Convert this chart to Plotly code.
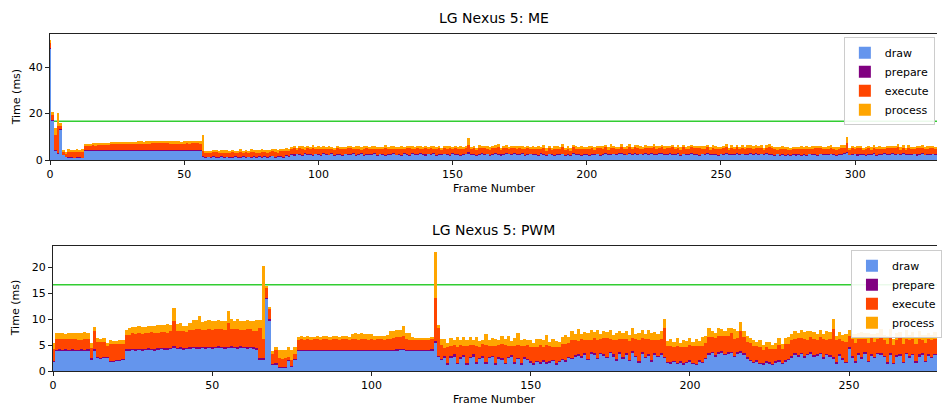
import plotly.graph_objects as go

# ---------------- LG Nexus 5: ME (frames 0..330) ----------------
draw_me = [
    48.0, 17.2, 4.3, 3.0, 13.0, 2.2, 1.4, 1.2, 1.0, 0.9,
    1.1, 1.0, 0.9, 4.0, 4.0, 4.1, 4.0, 4.0, 4.1, 4.0,
    4.0, 4.1, 4.0, 4.1, 4.1, 4.0, 4.1, 4.1, 4.1, 4.0,
    4.1, 4.1, 4.1, 4.1, 4.1, 4.0, 4.1, 4.1, 4.2, 4.1,
    4.1, 4.2, 4.2, 4.2, 4.2, 4.1, 4.2, 4.2, 4.2, 4.1,
    4.2, 4.1, 4.2, 4.2, 4.2, 4.2, 4.1, 1.5, 1.2, 1.4,
    1.1, 1.5, 1.3, 1.2, 1.6, 1.1, 1.4, 1.3, 1.2, 1.5,
    1.1, 1.3, 1.6, 1.2, 1.4, 1.1, 1.7, 1.3, 1.5, 1.2,
    1.6, 1.3, 1.4, 1.8, 1.2, 1.5, 1.7, 1.3, 1.9, 1.6,
    2.3, 2.1, 2.6, 2.4, 2.0, 2.8, 2.2, 2.5, 2.1, 2.7,
    2.4, 2.0, 2.6, 2.3, 2.2, 2.9, 2.1, 2.5, 2.4, 2.0,
    2.7, 2.3, 2.2, 2.6, 2.0, 2.4, 2.8, 2.1, 2.5, 2.3,
    2.2, 2.6, 2.0, 2.7, 2.4, 2.1, 2.5, 2.3, 2.8, 2.2,
    2.4, 2.0, 2.6, 2.5, 2.1, 2.9, 2.3, 2.2, 2.7, 2.4,
    2.1, 2.6, 2.3, 2.8, 2.0, 2.5, 2.2, 2.6, 2.4, 2.1,
    2.7, 2.3, 2.5, 2.0, 2.4, 2.6, 3.0, 2.2, 2.5, 2.1,
    2.4, 2.8, 2.2, 2.6, 2.0, 2.3, 2.7, 2.5, 2.1, 2.4,
    2.9, 2.6, 2.3, 2.7, 2.2, 2.5, 2.8, 2.1, 2.4, 2.6,
    2.2, 2.5, 2.0, 2.7, 2.3, 2.1, 2.6, 2.4, 2.0, 2.5,
    2.2, 2.6, 2.1, 2.4, 2.0, 2.7, 2.3, 2.5, 2.1, 2.4,
    2.2, 2.0, 2.5, 2.3, 2.6, 2.1, 2.4, 2.8, 2.2, 2.5,
    2.7, 2.3, 2.6, 2.9, 2.4, 2.2, 2.7, 2.5, 2.8, 2.3,
    2.6, 2.4, 2.9, 2.2, 2.7, 2.5, 2.3, 2.8, 2.6, 2.4,
    2.2, 2.7, 2.5, 2.3, 2.8, 2.1, 2.6, 2.4, 2.2, 2.7,
    2.5, 2.3, 2.0, 2.6, 2.4, 2.8, 2.2, 2.5, 2.3, 2.1,
    2.6, 2.4, 2.7, 2.2, 2.5, 2.3, 2.8, 2.4, 2.6, 2.2,
    2.5, 2.7, 2.3, 2.9, 2.4, 2.6, 2.2, 2.8, 2.5, 2.3,
    2.1, 2.6, 2.0, 2.4, 1.8, 2.2, 1.9, 2.5, 2.1, 2.3,
    1.9, 2.4, 2.0, 2.6, 2.2, 2.5, 2.1, 2.7, 2.3, 2.5,
    2.2, 2.6, 2.4, 2.0, 2.5, 2.3, 2.7, 3.1, 2.2, 2.4,
    2.6, 2.1, 2.5, 2.3, 2.0, 2.4, 2.2, 2.6, 2.1, 2.5,
    2.3, 2.7, 2.2, 2.5, 2.8, 2.4, 2.6, 2.3, 2.7, 2.2,
    2.5, 2.3, 2.6, 2.1, 2.4, 2.7, 2.2, 2.5, 2.3, 2.6, 2.4,
]
prepare_me = [
    0.3, 0.2, 0.2, 0.2, 0.3, 0.1, 0.1, 0.1, 0.1, 0.1,
    0.1, 0.1, 0.1, 0.2, 0.2, 0.2, 0.2, 0.2, 0.2, 0.2,
    0.2, 0.2, 0.2, 0.2, 0.2, 0.2, 0.2, 0.2, 0.2, 0.2,
    0.2, 0.2, 0.2, 0.2, 0.2, 0.2, 0.2, 0.2, 0.2, 0.2,
    0.3, 0.3, 0.3, 0.3, 0.3, 0.3, 0.2, 0.2, 0.3, 0.2,
    0.2, 0.3, 0.2, 0.3, 0.3, 0.2, 0.2, 0.2, 0.2, 0.1,
    0.2, 0.1, 0.2, 0.2, 0.1, 0.2, 0.1, 0.2, 0.2, 0.1,
    0.2, 0.2, 0.1, 0.2, 0.1, 0.2, 0.2, 0.1, 0.2, 0.2,
    0.1, 0.2, 0.2, 0.1, 0.2, 0.2, 0.1, 0.2, 0.2, 0.2,
    0.2, 0.3, 0.2, 0.2, 0.1, 0.2, 0.3, 0.2, 0.2, 0.1,
    0.2, 0.2, 0.3, 0.2, 0.1, 0.2, 0.2, 0.3, 0.2, 0.2,
    0.1, 0.2, 0.2, 0.3, 0.2, 0.2, 0.1, 0.2, 0.3, 0.2,
    0.2, 0.3, 0.2, 0.1, 0.2, 0.2, 0.3, 0.2, 0.2, 0.1,
    0.2, 0.2, 0.3, 0.2, 0.2, 0.1, 0.2, 0.3, 0.2, 0.2,
    0.3, 0.2, 0.2, 0.1, 0.2, 0.3, 0.2, 0.2, 0.1, 0.2,
    0.2, 0.3, 0.2, 0.2, 0.1, 0.2, 0.3, 0.2, 0.2, 0.2,
    0.1, 0.2, 0.3, 0.2, 0.2, 0.1, 0.2, 0.2, 0.3, 0.2,
    0.2, 0.1, 0.2, 0.3, 0.2, 0.2, 0.1, 0.2, 0.3, 0.2,
    0.2, 0.2, 0.1, 0.2, 0.3, 0.2, 0.2, 0.1, 0.2, 0.2,
    0.3, 0.2, 0.2, 0.1, 0.2, 0.3, 0.2, 0.2, 0.1, 0.2,
    0.2, 0.3, 0.2, 0.2, 0.1, 0.2, 0.2, 0.3, 0.2, 0.2,
    0.1, 0.2, 0.3, 0.2, 0.2, 0.1, 0.2, 0.2, 0.3, 0.2,
    0.2, 0.1, 0.2, 0.3, 0.2, 0.2, 0.1, 0.2, 0.3, 0.2,
    0.2, 0.2, 0.1, 0.2, 0.3, 0.2, 0.2, 0.1, 0.2, 0.2,
    0.3, 0.2, 0.2, 0.1, 0.2, 0.3, 0.2, 0.2, 0.1, 0.2,
    0.2, 0.3, 0.2, 0.2, 0.1, 0.2, 0.2, 0.3, 0.2, 0.2,
    0.1, 0.2, 0.3, 0.2, 0.2, 0.1, 0.2, 0.2, 0.3, 0.2,
    0.2, 0.1, 0.2, 0.3, 0.2, 0.2, 0.1, 0.2, 0.3, 0.2,
    0.2, 0.2, 0.1, 0.2, 0.3, 0.2, 0.2, 0.1, 0.2, 0.2,
    0.3, 0.2, 0.2, 0.1, 0.2, 0.3, 0.2, 0.2, 0.1, 0.2,
    0.2, 0.3, 0.2, 0.2, 0.1, 0.2, 0.2, 0.3, 0.2, 0.2,
    0.1, 0.2, 0.3, 0.2, 0.2, 0.1, 0.2, 0.2, 0.3, 0.2,
    0.2, 0.1, 0.2, 0.3, 0.2, 0.2, 0.1, 0.2, 0.3, 0.2, 0.2,
]
execute_me = [
    2.0, 2.0, 6.4, 11.3, 1.5, 1.4, 1.2, 2.2, 2.5, 2.6,
    2.4, 2.5, 2.6, 1.9, 1.9, 2.0, 2.1, 2.0, 2.1, 2.2,
    2.3, 2.2, 2.4, 2.5, 2.4, 2.6, 2.5, 2.6, 2.5, 2.7,
    2.6, 2.7, 2.6, 2.7, 2.8, 2.7, 2.8, 2.7, 2.8, 2.9,
    2.8, 2.9, 2.8, 2.9, 2.8, 2.7, 2.6, 2.7, 2.6, 2.7,
    2.6, 2.8, 2.7, 2.8, 2.7, 2.8, 2.7, 2.0, 1.8, 1.6,
    2.0, 1.7, 1.9, 1.8, 1.5, 2.1, 1.7, 1.9, 2.0, 1.6,
    1.8, 1.9, 1.5, 2.0, 1.7, 2.2, 1.6, 1.8, 1.7, 2.1,
    1.9, 1.6, 2.0, 1.8, 2.2, 1.7, 1.9, 2.3, 1.8, 2.0,
    2.2, 2.6, 1.9, 2.4, 2.8, 1.7, 2.5, 2.1, 2.9, 1.8,
    2.3, 2.7, 2.0, 2.5, 2.6, 1.8, 2.4, 2.2, 2.0, 2.8,
    1.9, 2.5, 2.6, 2.1, 2.7, 2.3, 1.8, 2.6, 2.2, 2.4,
    2.5, 2.0, 2.7, 1.9, 2.3, 2.8, 2.1, 2.4, 1.8, 2.6,
    2.2, 2.7, 1.9, 2.3, 2.8, 1.8, 2.4, 2.6, 2.0, 2.3,
    2.6, 2.0, 2.5, 1.9, 2.7, 2.3, 2.1, 2.6, 2.2, 2.9,
    2.0, 2.4, 2.2, 2.7, 2.3, 2.5, 3.0, 2.4, 2.4, 2.3,
    2.6, 2.2, 2.8, 2.0, 2.5, 2.7, 2.4, 2.9, 2.2, 2.5,
    2.3, 1.9, 2.7, 2.1, 2.4, 2.6, 1.8, 2.3, 2.5, 2.0,
    2.4, 1.9, 2.6, 2.2, 2.7, 1.8, 2.3, 2.1, 2.6, 2.2,
    2.5, 2.8, 2.0, 2.4, 1.9, 2.7, 2.3, 2.1, 2.6, 2.4,
    2.2, 2.6, 2.3, 2.0, 2.5, 2.8, 2.2, 2.4, 2.1, 2.7,
    2.4, 2.2, 1.9, 2.7, 2.3, 2.5, 2.8, 2.1, 2.4, 2.6,
    2.0, 2.5, 2.3, 2.6, 2.1, 2.8, 2.4, 2.2, 2.7, 2.3,
    2.6, 2.1, 2.9, 2.4, 2.2, 2.0, 2.7, 2.3, 2.5, 2.8,
    2.3, 2.6, 2.8, 2.2, 2.5, 2.4, 2.0, 2.7, 2.3, 2.5,
    2.1, 2.4, 2.6, 2.0, 2.8, 2.3, 2.5, 2.2, 2.6, 2.4,
    2.7, 2.2, 2.5, 2.1, 2.4, 2.6, 2.0, 2.3, 2.8, 2.5,
    2.3, 2.0, 2.6, 2.2, 2.7, 2.1, 2.5, 1.9, 2.4, 2.2,
    2.6, 2.1, 2.7, 2.0, 2.4, 2.3, 2.8, 2.2, 2.5, 2.1,
    2.3, 2.6, 2.0, 2.4, 2.2, 2.7, 2.5, 4.0, 2.1, 2.5,
    2.2, 2.6, 2.3, 2.0, 2.5, 2.7, 2.1, 2.4, 2.6, 2.2,
    2.4, 2.0, 2.6, 2.3, 2.1, 2.5, 2.8, 2.2, 2.4, 2.0,
    2.6, 2.3, 2.1, 2.7, 2.4, 2.2, 2.5, 2.0, 2.6, 2.3, 2.2,
]
process_me = [
    1.4, 1.2, 3.0, 5.6, 1.0, 0.8, 0.6, 1.2, 0.9, 0.8,
    1.0, 0.9, 1.1, 0.9, 1.0, 0.8, 0.9, 1.0, 0.9, 1.0,
    0.9, 1.0, 0.9, 0.9, 1.0, 0.9, 1.0, 0.9, 1.0, 0.9,
    1.0, 0.9, 1.0, 1.0, 0.9, 1.0, 0.9, 1.0, 0.9, 1.0,
    1.1, 1.0, 1.1, 1.0, 1.1, 1.3, 1.0, 0.9, 1.0, 0.9,
    1.0, 1.1, 1.0, 1.0, 1.1, 1.0, 1.2, 6.9, 0.8, 1.0,
    0.7, 1.1, 0.9, 0.6, 1.2, 0.8, 1.0, 0.7, 1.1, 0.9,
    0.8, 1.2, 0.7, 1.0, 0.9, 1.1, 0.6, 1.0, 0.8, 1.2,
    0.9, 1.1, 0.7, 1.0, 1.2, 0.8, 1.1, 0.9, 1.3, 1.0,
    0.9, 1.2, 0.7, 1.0, 1.3, 0.8, 1.1, 0.6, 1.2, 0.9,
    1.0, 0.7, 1.3, 0.8, 1.1, 0.9, 0.6, 1.2, 1.0, 0.8,
    1.1, 0.9, 1.2, 0.7, 1.0, 1.3, 0.8, 1.1, 0.9, 0.6,
    1.2, 1.0, 0.8, 1.1, 0.9, 1.2, 0.7, 1.0, 1.3, 0.8,
    1.0, 1.2, 0.8, 1.1, 0.9, 1.3, 0.7, 1.0, 1.2, 0.9,
    1.1, 0.8, 1.0, 1.3, 0.9, 1.1, 0.9, 0.8, 1.2, 1.0,
    0.9, 1.1, 0.8, 1.2, 1.0, 0.7, 3.3, 0.9, 1.1, 0.8,
    1.2, 1.0, 0.9, 1.3, 0.8, 1.1, 1.0, 1.2, 0.7, 1.1,
    0.9, 1.2, 0.8, 1.0, 1.1, 0.7, 1.2, 0.9, 1.0, 0.8,
    1.1, 0.9, 1.2, 0.7, 1.0, 0.9, 1.1, 0.8, 1.2, 1.0,
    0.8, 1.1, 0.9, 1.2, 1.0, 0.7, 1.1, 0.9, 1.3, 0.8,
    1.0, 1.2, 0.9, 1.1, 0.8, 1.0, 1.2, 0.9, 1.1, 1.3,
    0.9, 1.1, 1.0, 1.2, 0.8, 1.1, 1.3, 0.9, 1.0, 1.2,
    1.1, 0.8, 1.2, 1.0, 0.9, 1.3, 1.1, 0.8, 1.0, 1.2,
    0.9, 1.2, 1.0, 0.8, 1.1, 1.3, 0.9, 1.0, 1.2, 0.8,
    1.1, 0.9, 1.2, 1.0, 0.8, 1.1, 1.3, 0.9, 1.2, 1.0,
    0.8, 1.0, 1.2, 0.9, 1.1, 0.7, 1.0, 0.8, 1.2, 0.9,
    1.0, 1.2, 0.8, 1.1, 0.9, 1.3, 0.8, 1.0, 1.2, 0.9,
    1.1, 0.8, 1.0, 1.2, 0.9, 1.1, 0.8, 1.2, 1.0, 0.9,
    1.2, 0.9, 1.1, 0.8, 1.0, 1.2, 0.9, 1.1, 0.8, 1.0,
    1.2, 0.9, 1.1, 1.0, 0.8, 1.2, 1.0, 2.6, 0.9, 1.1,
    0.8, 1.0, 1.2, 0.9, 1.1, 0.8, 1.3, 1.0, 0.9, 1.2,
    1.0, 0.8, 1.1, 1.2, 0.9, 1.0, 1.3, 0.8, 1.1, 0.9,
    1.2, 1.0, 0.8, 1.1, 0.9, 1.3, 1.0, 1.2, 0.9, 1.1, 1.0,
]

# ---------------- LG Nexus 5: PWM (frames 0..277) ----------------
draw_pwm = [
    1.8, 3.9, 4.0, 3.9, 4.0, 3.9, 4.0, 3.9, 3.9, 4.0,
    3.9, 4.0, 2.3, 4.0, 2.6, 2.5, 2.6, 2.7, 1.8, 1.9,
    2.0, 2.1, 2.2, 4.0, 4.0, 4.1, 4.0, 4.1, 4.0, 4.1,
    4.2, 4.1, 4.0, 4.2, 4.3, 4.2, 4.2, 4.3, 4.6, 4.3,
    4.4, 4.2, 4.3, 4.4, 4.5, 4.4, 4.3, 4.5, 4.4, 4.5,
    4.4, 4.5, 4.6, 4.5, 4.4, 4.5, 4.6, 4.5, 4.4, 4.6,
    4.5, 4.4, 4.5, 4.4, 4.2, 2.3, 2.3, 14.0, 9.8, 1.2,
    1.3, 0.6, 0.6, 0.7, 2.1, 0.9, 2.2, 4.0, 4.0, 4.0,
    4.0, 4.0, 4.0, 4.0, 4.0, 4.0, 4.0, 4.0, 4.0, 4.0,
    4.0, 4.0, 4.0, 4.0, 4.0, 4.0, 4.0, 4.0, 4.0, 4.0,
    4.0, 4.0, 4.0, 4.0, 4.0, 4.0, 4.0, 4.0, 4.0, 4.1,
    4.1, 4.0, 4.0, 4.0, 4.0, 4.0, 4.0, 4.0, 4.0, 4.0,
    5.6, 2.8, 2.2, 2.6, 1.3, 2.7, 2.9, 1.4, 2.5, 2.8,
    1.3, 2.6, 2.9, 1.5, 2.4, 2.7, 1.4, 2.6, 2.8, 1.3,
    2.5, 2.3, 1.4, 2.6, 2.8, 1.5, 2.4, 1.2, 2.5, 2.2,
    1.6, 1.3, 1.8, 1.5, 1.9, 1.4, 1.7, 2.0, 1.3, 1.8,
    2.2, 1.9, 2.6, 2.4, 2.8, 3.0, 2.7, 3.2, 2.2, 3.4,
    3.1, 2.4, 3.3, 3.0, 2.6, 3.5, 2.9, 2.1, 3.4, 2.5,
    3.2, 2.0, 3.5, 2.8, 1.7, 3.3, 2.6, 3.0, 1.9, 3.2,
    2.8, 3.1, 2.6, 1.6, 1.5, 1.8, 1.4, 1.7, 1.3, 1.6,
    1.9, 1.4, 1.2, 1.8, 1.6, 2.4, 3.2, 3.5, 2.9, 3.3,
    3.6, 3.1, 3.4, 3.5, 2.8, 3.3, 3.6, 3.2, 2.4, 2.0,
    1.6, 1.8, 1.4, 1.3, 1.7, 1.5, 1.2, 1.6, 1.9, 1.4,
    1.8, 2.2, 2.7, 3.2, 2.9, 3.3, 2.6, 3.1, 3.4, 2.8,
    3.0, 3.3, 2.5, 3.1, 2.9, 2.4, 1.5, 3.0, 2.2, 1.6,
    4.4, 2.7, 1.7, 3.2, 2.5, 3.4, 1.8, 3.0, 2.6, 3.3,
    3.1, 2.8, 1.5, 3.2, 1.4, 2.9, 3.0, 1.6, 3.3, 2.7,
    3.1, 1.7, 2.9, 3.2, 1.8, 3.0, 2.6, 3.1,
]
prepare_pwm = [
    0.1, 0.2, 0.2, 0.2, 0.2, 0.2, 0.2, 0.2, 0.2, 0.2,
    0.2, 0.2, 0.2, 0.2, 0.1, 0.1, 0.1, 0.1, 0.1, 0.1,
    0.1, 0.1, 0.1, 0.2, 0.2, 0.2, 0.2, 0.2, 0.2, 0.2,
    0.2, 0.2, 0.2, 0.2, 0.2, 0.2, 0.2, 0.2, 0.3, 0.2,
    0.2, 0.2, 0.2, 0.2, 0.2, 0.2, 0.3, 0.2, 0.2, 0.2,
    0.2, 0.2, 0.3, 0.2, 0.2, 0.2, 0.2, 0.2, 0.2, 0.2,
    0.2, 0.2, 0.2, 0.2, 0.2, 0.2, 0.2, 0.2, 0.3, 0.2,
    0.2, 0.1, 0.1, 0.1, 0.1, 0.1, 0.1, 0.1, 0.1, 0.1,
    0.1, 0.1, 0.1, 0.1, 0.1, 0.1, 0.1, 0.1, 0.1, 0.1,
    0.1, 0.1, 0.1, 0.1, 0.1, 0.1, 0.1, 0.1, 0.1, 0.1,
    0.1, 0.1, 0.1, 0.1, 0.1, 0.1, 0.1, 0.1, 0.2, 0.2,
    0.2, 0.1, 0.1, 0.1, 0.1, 0.1, 0.1, 0.1, 0.1, 0.2,
    0.2, 0.2, 0.2, 0.3, 0.2, 0.2, 0.3, 0.2, 0.2, 0.3,
    0.2, 0.2, 0.3, 0.2, 0.2, 0.2, 0.3, 0.2, 0.2, 0.3,
    0.2, 0.3, 0.2, 0.2, 0.3, 0.2, 0.2, 0.3, 0.2, 0.2,
    0.3, 0.3, 0.2, 0.3, 0.2, 0.3, 0.2, 0.2, 0.3, 0.2,
    0.2, 0.3, 0.2, 0.2, 0.3, 0.2, 0.2, 0.3, 0.2, 0.2,
    0.3, 0.2, 0.2, 0.3, 0.2, 0.2, 0.3, 0.2, 0.2, 0.3,
    0.2, 0.2, 0.3, 0.2, 0.2, 0.3, 0.2, 0.2, 0.3, 0.2,
    0.2, 0.3, 0.2, 0.2, 0.3, 0.2, 0.2, 0.3, 0.2, 0.2,
    0.3, 0.2, 0.2, 0.3, 0.2, 0.2, 0.3, 0.2, 0.2, 0.3,
    0.2, 0.2, 0.3, 0.2, 0.2, 0.3, 0.2, 0.2, 0.3, 0.2,
    0.2, 0.3, 0.2, 0.2, 0.3, 0.2, 0.2, 0.3, 0.2, 0.2,
    0.3, 0.2, 0.2, 0.3, 0.2, 0.2, 0.3, 0.2, 0.2, 0.3,
    0.2, 0.2, 0.3, 0.2, 0.2, 0.3, 0.2, 0.2, 0.3, 0.2,
    0.2, 0.3, 0.2, 0.2, 0.3, 0.2, 0.2, 0.3, 0.2, 0.2,
    0.3, 0.2, 0.2, 0.3, 0.2, 0.2, 0.3, 0.2, 0.2, 0.3,
    0.2, 0.2, 0.3, 0.2, 0.2, 0.3, 0.2, 0.2,
]
execute_pwm = [
    2.4, 2.0, 1.9, 2.0, 1.9, 2.0, 1.9, 2.1, 1.9, 1.8,
    2.0, 1.9, 2.0, 3.5, 3.0, 3.1, 2.9, 2.1, 3.4, 3.3,
    3.1, 3.0, 3.0, 2.7, 2.8, 3.0, 2.9, 3.1, 3.0, 3.1,
    3.0, 3.2, 3.1, 3.0, 3.1, 3.2, 3.0, 3.2, 4.7, 3.2,
    3.2, 3.3, 3.1, 3.4, 3.3, 3.5, 3.6, 3.2, 3.4, 3.5,
    3.3, 3.4, 3.2, 3.5, 3.4, 4.5, 3.3, 3.4, 3.6, 3.2,
    3.3, 3.5, 3.4, 3.2, 3.3, 5.8, 3.7, 1.8, 1.9, 1.8,
    2.6, 1.8, 1.7, 1.7, 0.5, 1.2, 0.9, 1.9, 2.0, 1.9,
    2.0, 1.9, 2.0, 2.0, 1.9, 2.0, 2.0, 1.9, 2.0, 2.0,
    1.9, 2.0, 2.0, 1.9, 2.0, 2.0, 1.9, 2.0, 2.0, 1.9,
    2.0, 1.9, 2.0, 2.0, 1.9, 2.0, 2.1, 2.2, 2.4, 2.3,
    2.5, 2.0, 1.8, 1.9, 1.8, 1.9, 1.8, 1.9, 1.8, 1.9,
    8.3, 5.4, 2.7, 1.6, 3.1, 2.0, 1.9, 3.0, 2.3, 1.7,
    3.4, 2.2, 1.8, 3.1, 2.0, 2.4, 3.3, 2.1, 1.9, 3.2,
    2.4, 2.6, 3.5, 2.0, 1.8, 3.2, 2.5, 3.4, 2.1, 2.7,
    2.8, 3.0, 2.6, 3.2, 2.5, 3.3, 2.9, 2.4, 3.1, 2.7,
    2.9, 3.1, 2.7, 3.3, 2.8, 2.6, 3.2, 2.5, 3.6, 2.4,
    2.9, 3.4, 2.6, 3.0, 3.5, 2.4, 2.8, 3.7, 2.5, 3.4,
    2.8, 3.6, 2.6, 3.1, 4.0, 2.7, 3.3, 2.9, 3.8, 2.6,
    3.0, 2.8, 5.5, 3.1, 3.0, 2.7, 3.3, 2.6, 3.2, 2.9,
    2.8, 3.2, 3.4, 2.7, 3.1, 2.9, 3.0, 2.8, 3.3, 3.2,
    2.9, 3.4, 3.0, 3.6, 3.2, 2.8, 3.9, 3.1, 3.0, 3.2,
    3.0, 2.8, 3.1, 2.6, 2.7, 2.5, 2.8, 2.4, 2.9, 2.7,
    3.1, 2.8, 3.0, 2.6, 3.2, 2.9, 3.3, 2.7, 3.0, 3.1,
    2.8, 3.0, 3.4, 2.7, 3.1, 5.5, 4.2, 2.9, 3.3, 3.8,
    2.1, 3.2, 3.6, 2.8, 3.3, 2.6, 3.5, 3.0, 2.9, 2.7,
    3.2, 2.9, 3.6, 3.0, 3.4, 2.8, 3.1, 3.5, 2.7, 3.0,
    2.9, 3.3, 3.0, 2.6, 3.4, 2.8, 3.1, 2.9,
]
process_pwm = [
    1.2, 1.2, 1.3, 1.2, 1.1, 1.3, 1.2, 1.2, 1.4, 1.3,
    1.5, 1.2, 1.0, 0.9, 0.6, 0.5, 0.7, 0.5, 0.6, 0.5,
    0.6, 0.7, 0.6, 1.1, 1.3, 1.2, 1.4, 1.3, 1.4, 1.2,
    1.3, 1.2, 1.4, 1.5, 1.2, 1.3, 1.6, 1.2, 2.5, 1.3,
    1.4, 1.0, 1.1, 1.2, 1.9, 1.8, 2.4, 1.6, 1.7, 1.6,
    1.8, 1.6, 1.8, 1.5, 1.7, 2.3, 1.9, 1.6, 1.9, 1.7,
    1.6, 1.8, 1.5, 1.9, 2.2, 1.6, 14.0, 0.4, 0.4, 0.7,
    0.6, 1.6, 1.7, 1.6, 2.0, 1.9, 1.5, 0.6, 0.6, 0.6,
    0.6, 0.6, 0.5, 0.6, 0.6, 0.6, 0.6, 0.6, 0.6, 0.6,
    0.6, 0.6, 0.6, 0.6, 1.1, 1.2, 1.2, 1.2, 1.1, 1.2,
    1.0, 0.7, 0.6, 0.6, 0.8, 0.8, 1.5, 1.4, 1.3, 1.4,
    1.9, 1.3, 1.4, 0.5, 0.4, 0.4, 0.4, 0.4, 0.4, 0.4,
    8.9, 0.5, 1.0, 1.6, 0.9, 1.4, 0.8, 1.9, 0.9, 1.7,
    1.0, 1.5, 0.9, 1.8, 1.2, 0.7, 2.1, 1.0, 1.4, 1.3,
    0.8, 1.6, 1.1, 1.9, 0.9, 1.5, 2.2, 1.0, 1.3, 0.8,
    1.2, 0.9, 1.6, 1.1, 1.4, 2.0, 0.8, 1.5, 1.1, 0.9,
    1.3, 1.7, 1.0, 1.8, 1.2, 2.3, 1.0, 1.6, 1.4, 1.9,
    1.2, 2.0, 1.1, 1.5, 1.3, 1.8, 1.0, 1.4, 1.7, 1.1,
    1.5, 1.2, 1.9, 1.0, 1.4, 1.6, 1.1, 1.8, 1.3, 1.5,
    1.2, 1.6, 1.7, 0.9, 1.3, 1.0, 1.5, 0.8, 1.2, 1.1,
    1.4, 0.9, 1.3, 1.0, 1.6, 1.2, 1.8, 1.3, 1.0, 1.5,
    1.4, 1.1, 1.6, 1.0, 1.9, 1.3, 1.7, 1.2, 1.1, 0.9,
    1.2, 0.8, 1.3, 1.0, 0.9, 1.4, 0.8, 1.1, 1.3, 1.0,
    1.1, 1.4, 1.2, 1.6, 1.0, 1.5, 1.3, 1.8, 1.1, 1.4,
    1.2, 1.5, 1.0, 1.7, 1.3, 1.9, 0.9, 1.4, 1.1, 1.5,
    1.3, 1.0, 1.6, 1.2, 1.4, 1.1, 1.8, 0.9, 1.5, 1.2,
    1.6, 1.0, 1.4, 1.7, 1.1, 1.5, 1.2, 1.3, 1.8, 1.0,
    1.4, 1.2, 1.6, 1.0, 1.5, 1.3, 1.1, 1.4,
]

series_names = ["draw", "prepare", "execute", "process"]
series_colors = ["#6495ED", "#800080", "#FF4500", "#FFA500"]
titles = ["LG Nexus 5: ME", "LG Nexus 5: PWM"]
target_ms = 16.67  # 60 fps frame budget
x_ticks_me = [0, 50, 100, 150, 200, 250, 300]
y_ticks_me = [0, 20, 40]
x_ticks_pwm = [0, 50, 100, 150, 200, 250]
y_ticks_pwm = [0, 5, 10, 15, 20]

FONT = "DejaVu Sans"
fig = go.Figure()

panels = [
    ([draw_me, prepare_me, execute_me, process_me], "x", "y", "legend"),
    ([draw_pwm, prepare_pwm, execute_pwm, process_pwm], "x2", "y2", "legend2"),
]
for series, xa, ya, leg in panels:
    for name, color, vals in zip(series_names, series_colors, series):
        fig.add_trace(go.Bar(
            x=list(range(len(vals))), y=vals, name=name, width=1,
            marker=dict(color=color, line=dict(width=0)),
            xaxis=xa, yaxis=ya, legend=leg, hoverinfo="skip",
        ))

axis_style = dict(showline=True, linecolor="#222", linewidth=1, ticks="outside",
                  ticklen=4, tickwidth=1, tickcolor="#222", showgrid=False,
                  zeroline=False, tickfont=dict(family=FONT, size=11, color="black"))

def total_max(series):
    return max(sum(v) for v in zip(*series))

ymax_me = total_max([draw_me, prepare_me, execute_me, process_me]) * 1.05
ymax_pwm = total_max([draw_pwm, prepare_pwm, execute_pwm, process_pwm]) * 1.05

legend_style = dict(bgcolor="rgba(255,255,255,0.9)", bordercolor="#cccccc", borderwidth=1,
                    font=dict(family=FONT, size=11, color="black"), traceorder="normal",
                    xanchor="left", yanchor="top", tracegroupgap=0)

fig.update_layout(
    width=942, height=408,
    margin=dict(l=50, r=0, t=34, b=37),
    paper_bgcolor="white", plot_bgcolor="white",
    barmode="stack", bargap=0,
    font=dict(family=FONT, size=11, color="black"),
    xaxis=dict(domain=[0, 1], anchor="y", range=[0, len(draw_me) - 0.5],
               tickvals=x_ticks_me, mirror=True, **axis_style),
    yaxis=dict(domain=[0.626, 1], anchor="x", range=[0, ymax_me],
               tickvals=y_ticks_me, **axis_style),
    xaxis2=dict(domain=[0.0034, 1], anchor="y2", range=[0, len(draw_pwm) - 0.4],
                tickvals=x_ticks_pwm, mirror=True, **axis_style),
    yaxis2=dict(domain=[0, 0.371], anchor="x2", range=[0, ymax_pwm],
                tickvals=y_ticks_pwm, **axis_style),
    legend=dict(x=0.895, y=0.99, **legend_style),
    legend2=dict(x=0.903, y=0.358, **legend_style),
    shapes=[
        dict(type="line", xref="x domain", yref="y", x0=0, x1=1, y0=target_ms, y1=target_ms,
             line=dict(color="#32CD32", width=1.5), layer="below"),
        dict(type="line", xref="x2 domain", yref="y2", x0=0, x1=1, y0=target_ms, y1=target_ms,
             line=dict(color="#32CD32", width=1.5), layer="below"),
    ],
    annotations=[
        dict(text=titles[0], x=0.5, y=1.047, xref="paper", yref="paper", showarrow=False,
             xanchor="center", yanchor="middle", font=dict(family=FONT, size=14, color="black")),
        dict(text=titles[1], x=0.5, y=0.418, xref="paper", yref="paper", showarrow=False,
             xanchor="center", yanchor="middle", font=dict(family=FONT, size=14, color="black")),
        dict(text="Frame Number", x=0.5, y=0.543, xref="paper", yref="paper", showarrow=False,
             xanchor="center", yanchor="middle", font=dict(family=FONT, size=11, color="black")),
        dict(text="Frame Number", x=0.5, y=-0.086, xref="paper", yref="paper", showarrow=False,
             xanchor="center", yanchor="middle", font=dict(family=FONT, size=11, color="black")),
        dict(text="Time (ms)", x=-0.038, y=0.813, xref="paper", yref="paper", showarrow=False,
             textangle=-90, xanchor="center", yanchor="middle",
             font=dict(family=FONT, size=11, color="black")),
        dict(text="Time (ms)", x=-0.038, y=0.187, xref="paper", yref="paper", showarrow=False,
             textangle=-90, xanchor="center", yanchor="middle",
             font=dict(family=FONT, size=11, color="black")),
    ],
)

fig.write_html("out.html")
